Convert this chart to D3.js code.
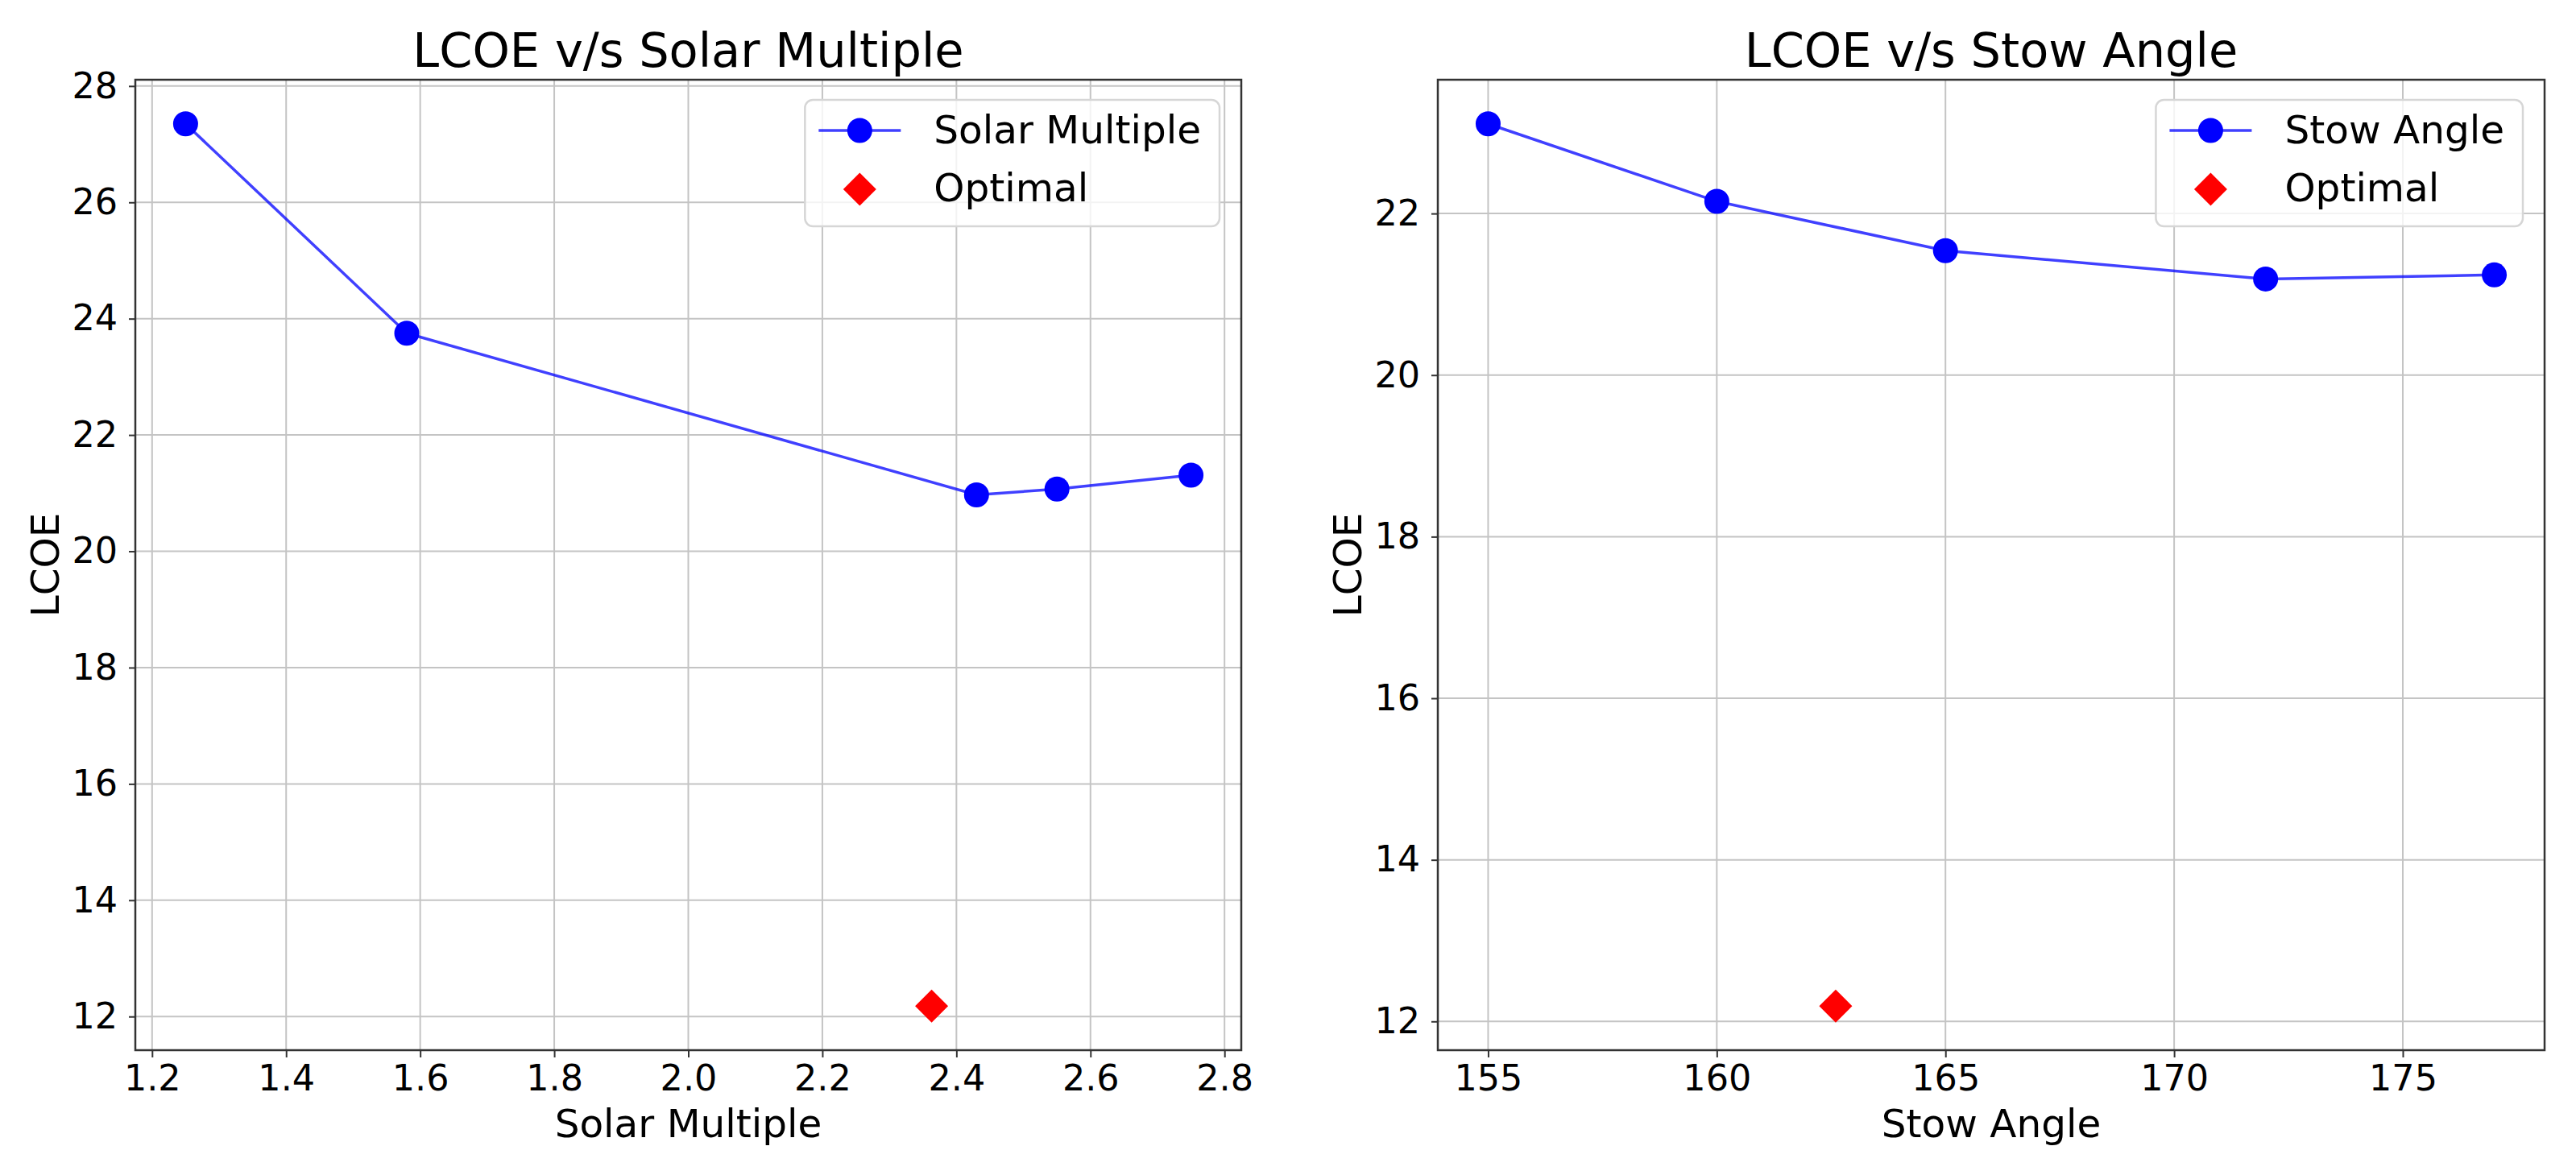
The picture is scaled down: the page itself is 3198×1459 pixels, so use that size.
<!DOCTYPE html>
<html>
<head>
<meta charset="utf-8">
<script src="https://cdn.jsdelivr.net/npm/d3@7/dist/d3.min.js"></script>
<style>
  body { margin: 0; background: #fff; }
  svg { display: block; }
  text { font-family: 'DejaVu Sans', sans-serif; fill: #000; }
</style>
</head>
<body>
<div id="canvas"></div>
<script>
// left panel: LCOE vs solar multiple
const solarMultiple = [1.25, 1.58, 2.43, 2.55, 2.75];
const lcoeSolar = [27.35, 23.75, 20.97, 21.07, 21.31];
const solarOptimal = [2.363, 12.18];
const solarXTicks = [1.2, 1.4, 1.6, 1.8, 2.0, 2.2, 2.4, 2.6, 2.8];
const solarYTicks = [12, 14, 16, 18, 20, 22, 24, 26, 28];

// right panel: LCOE vs stow angle
const stowAngle = [155, 160, 165, 172, 177];
const lcoeStow = [23.11, 22.15, 21.54, 21.19, 21.24];
const stowOptimal = [162.6, 12.19];
const stowXTicks = [155, 160, 165, 170, 175];
const stowYTicks = [12, 14, 16, 18, 20, 22];

const W = 3198;
const H = 1459;

const svg = d3
  .select('#canvas')
  .append('svg')
  .attr('width', W)
  .attr('height', H);

// matplotlib style 5% padding on the data range
function padded(values) {
  const lo = d3.min(values);
  const hi = d3.max(values);
  const m = (hi - lo) * 0.05;
  return [lo - m, hi + m];
}

function drawPanel(p) {
  const g = svg.append('g').attr('transform', `translate(${p.left}, ${p.top})`);
  const w = p.width;
  const h = p.height;

  const xScale = d3.scaleLinear().domain(padded(p.xs.concat([p.optimal[0]]))).range([0, w]);
  const yScale = d3.scaleLinear().domain(padded(p.ys.concat([p.optimal[1]]))).range([h, 0]);

  // grid
  g.selectAll('line.gx')
    .data(p.xTicks)
    .enter()
    .append('line')
    .attr('x1', d => xScale(d))
    .attr('x2', d => xScale(d))
    .attr('y1', 0)
    .attr('y2', h)
    .attr('stroke', '#c4c4c4')
    .attr('stroke-width', 2);
  g.selectAll('line.gy')
    .data(p.yTicks)
    .enter()
    .append('line')
    .attr('x1', 0)
    .attr('x2', w)
    .attr('y1', d => yScale(d))
    .attr('y2', d => yScale(d))
    .attr('stroke', '#c4c4c4')
    .attr('stroke-width', 2);

  // axes
  const xAxis = d3.axisBottom(xScale)
    .tickValues(p.xTicks)
    .tickFormat(p.xFormat)
    .tickSize(9)
    .tickPadding(9);
  const yAxis = d3.axisLeft(yScale)
    .tickValues(p.yTicks)
    .tickFormat(d3.format('d'))
    .tickSize(8)
    .tickPadding(14);

  const xg = g.append('g').attr('transform', `translate(0, ${h})`).call(xAxis);
  const yg = g.append('g').call(yAxis);
  [xg, yg].forEach(ax => {
    ax.select('.domain').remove();
    ax.selectAll('line').attr('stroke', '#333').attr('stroke-width', 2);
    ax.selectAll('text').attr('font-size', 44.5).attr('font-family', "'DejaVu Sans', sans-serif").attr('fill', '#000');
  });

  // frame
  g.append('rect')
    .attr('width', w)
    .attr('height', h)
    .attr('fill', 'none')
    .attr('stroke', '#333')
    .attr('stroke-width', 2.5);

  // series line + markers
  const pts = p.xs.map((x, i) => ({ x: x, y: p.ys[i] }));
  const line = d3.line().x(d => xScale(d.x)).y(d => yScale(d.y));
  g.append('path')
    .attr('d', line(pts))
    .attr('fill', 'none')
    .attr('stroke', '#0000ff')
    .attr('stroke-opacity', 0.75)
    .attr('stroke-width', 3.5);
  g.selectAll('circle')
    .data(pts)
    .enter()
    .append('circle')
    .attr('cx', d => xScale(d.x))
    .attr('cy', d => yScale(d.y))
    .attr('r', 15.5)
    .attr('fill', '#0000ff');

  const diamond = d3.symbol(d3.symbolSquare, 841);
  g.append('path')
    .attr('d', diamond())
    .attr('transform', `translate(${xScale(p.optimal[0])}, ${yScale(p.optimal[1])}) rotate(45)`)
    .attr('fill', '#ff0000');

  // titles and labels
  g.append('text')
    .attr('x', w / 2)
    .attr('y', -16)
    .attr('text-anchor', 'middle')
    .attr('font-size', 59)
    .text(p.title);
  g.append('text')
    .attr('x', w / 2)
    .attr('y', h + 108)
    .attr('text-anchor', 'middle')
    .attr('font-size', 48.5)
    .text(p.xLabel);
  g.append('text')
    .attr('transform', `translate(-95, ${h / 2}) rotate(-90)`)
    .attr('text-anchor', 'middle')
    .attr('font-size', 48.5)
    .text('LCOE');

  // legend
  const lg = g.append('g');
  const box = lg.append('rect')
    .attr('fill', '#fff')
    .attr('fill-opacity', 0.8)
    .attr('stroke', '#d6d6d6')
    .attr('stroke-width', 2.5)
    .attr('rx', 10)
    .attr('ry', 10);
  const t1 = lg.append('text').attr('x', 160).attr('y', 54).attr('font-size', 48.5).text(p.xLabel);
  lg.append('text').attr('x', 160).attr('y', 126).attr('font-size', 48.5).text('Optimal');
  lg.append('line')
    .attr('x1', 17).attr('x2', 119)
    .attr('y1', 38).attr('y2', 38)
    .attr('stroke', '#0000ff')
    .attr('stroke-opacity', 0.75)
    .attr('stroke-width', 3.5);
  lg.append('circle').attr('cx', 68).attr('cy', 38).attr('r', 15.5).attr('fill', '#0000ff');
  lg.append('path')
    .attr('d', diamond())
    .attr('transform', 'translate(68, 111) rotate(45)')
    .attr('fill', '#ff0000');
  const bw = 160 + t1.node().getComputedTextLength() + 23;
  box.attr('width', bw).attr('height', 157);
  lg.attr('transform', `translate(${w - 27 - bw}, 25)`);
}

drawPanel({
  left: 168, top: 99, width: 1373, height: 1205,
  xs: solarMultiple, ys: lcoeSolar, optimal: solarOptimal,
  xTicks: solarXTicks, yTicks: solarYTicks, xFormat: d3.format('.1f'),
  title: 'LCOE v/s Solar Multiple', xLabel: 'Solar Multiple',
});

drawPanel({
  left: 1785, top: 99, width: 1374, height: 1205,
  xs: stowAngle, ys: lcoeStow, optimal: stowOptimal,
  xTicks: stowXTicks, yTicks: stowYTicks, xFormat: d3.format('d'),
  title: 'LCOE v/s Stow Angle', xLabel: 'Stow Angle',
});
</script>
</body>
</html>
